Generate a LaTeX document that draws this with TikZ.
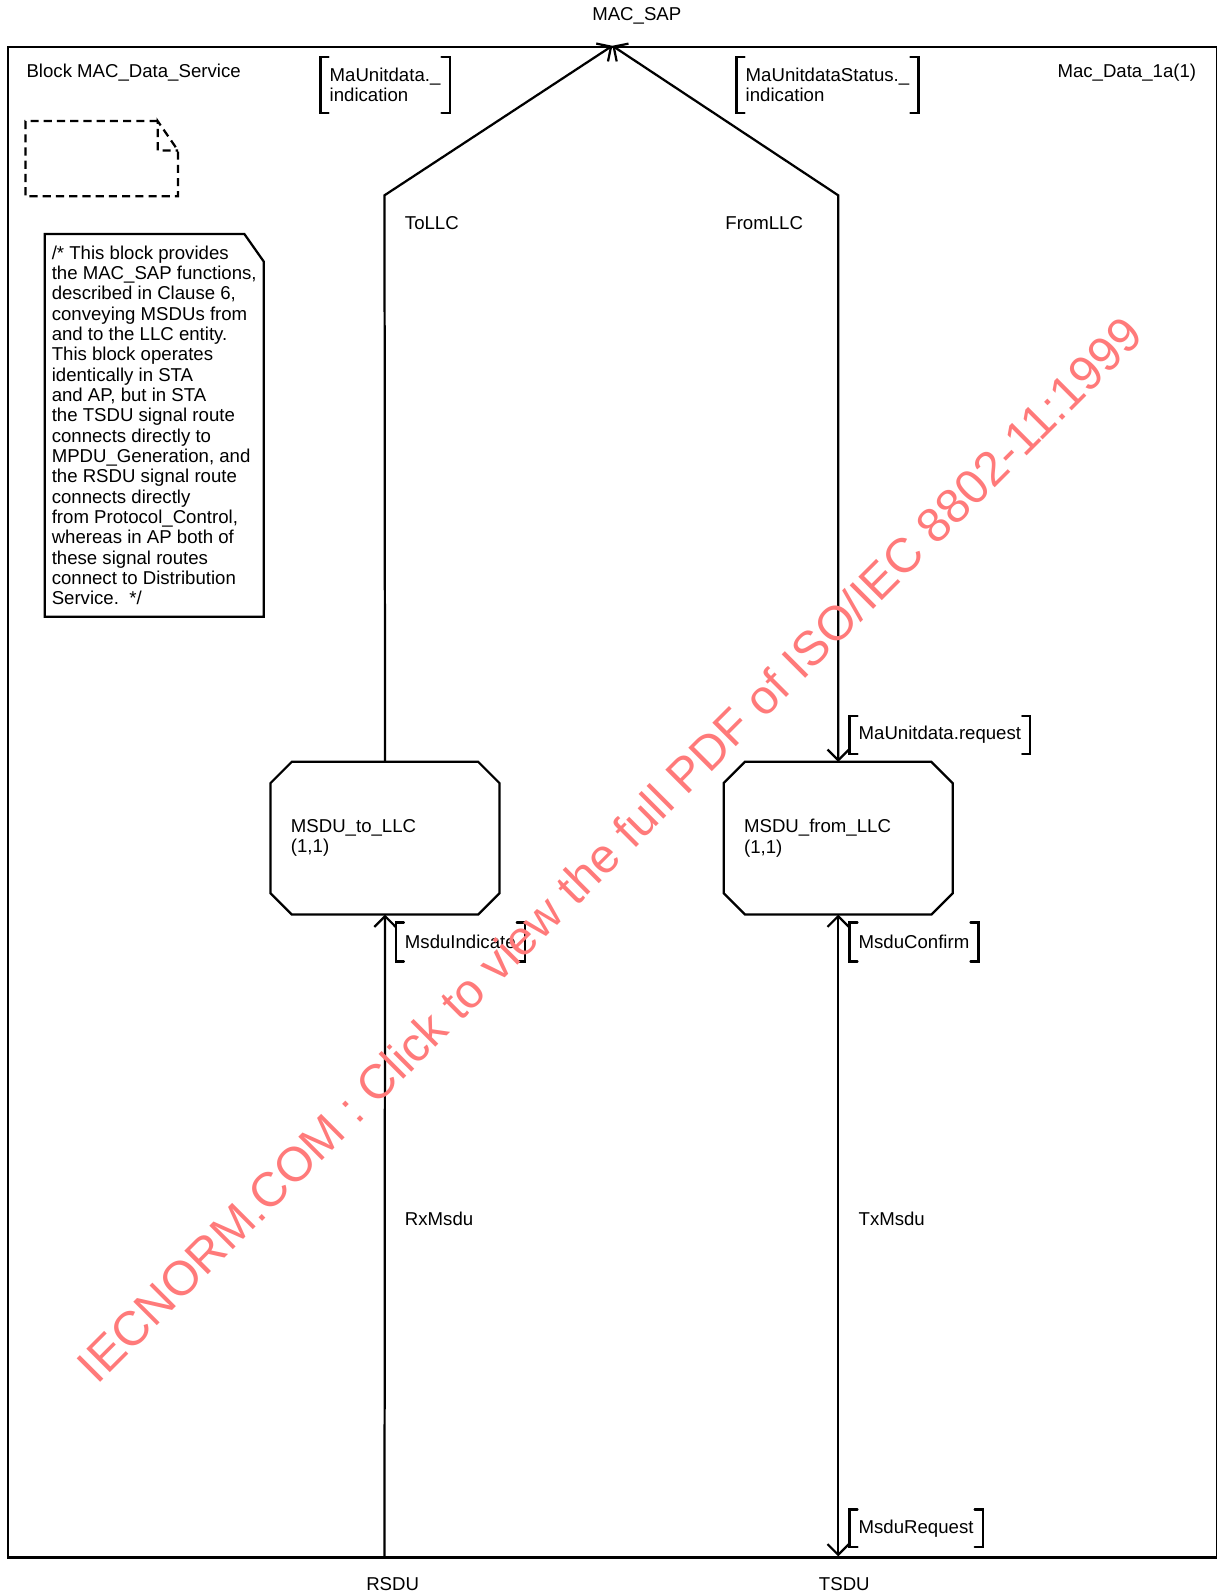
\documentclass[tikz,border=0pt]{standalone}
\usepackage{fontspec}
\setmainfont{Liberation Sans}
\usetikzlibrary{arrows.meta}
\definecolor{wmred}{RGB}{255,122,122}
% octagonal process symbol drawn round a named node
\newcommand{\octbox}[1]{%
  \draw ([xshift=21pt]#1.north west) -- ([xshift=-21pt]#1.north east)
    -- ([yshift=-21pt]#1.north east) -- ([yshift=21pt]#1.south east)
    -- ([xshift=-21pt]#1.south east) -- ([xshift=21pt]#1.south west)
    -- ([yshift=21pt]#1.south west) -- ([yshift=-21pt]#1.north west) -- cycle;}
% square brackets round a signal list
\newcommand{\sigbrackets}[1]{%
  \draw[line cap=round] ([xshift=8pt]#1.north west) -- (#1.north west) -- (#1.south west) -- ([xshift=8pt]#1.south west);
  \draw[line cap=round] ([xshift=-8pt]#1.north east) -- (#1.north east) -- (#1.south east) -- ([xshift=-8pt]#1.south east);}

\begin{document}
\begin{tikzpicture}[
  x=1pt,y=-1pt,
  font=\fontsize{18.3}{20}\selectfont,
  line width=2.2pt,
  >={Straight Barb[length=10.5pt,width=21pt]},
  lbl/.style={inner sep=0pt},
  proc/.style={minimum width=223pt,minimum height=148pt,text width=185pt,align=left,inner sep=0pt},
  siglist/.style={inner xsep=8pt,inner ysep=0pt,align=left,anchor=west},
  route/.style={line join=miter},
  dashline/.style={dash pattern=on 8pt off 5pt,line width=2.2pt},
  wm/.style={text=wmred,font=\fontsize{47.5}{50}\selectfont,inner sep=0pt}
]
\useasboundingbox (0,0) rectangle (1196,1568);

% ---------------- block frame and gates
\node[draw,minimum width=1188pt,minimum height=1485pt,inner sep=0pt,anchor=north west] (frame) at (7,45) {};
\coordinate (sap) at (602,45);
\coordinate (rsduPt) at (378,1530);
\coordinate (tsduPt) at (824,1530);
\coordinate (toBend) at (378,192);
\coordinate (fromBend) at (824,192);

\node[lbl] (sapLbl) at (626,16) {MAC\_SAP};
\node[lbl] (rsduLbl) at (386,1557) {RSDU};
\node[lbl] (tsduLbl) at (830,1557) {TSDU};

\node[lbl,anchor=west] (title) at (25,71) {Block MAC\_Data\_Service};
\node[lbl,anchor=east] (page) at (1177,71) {Mac\_Data\_1a(1)};

% ---------------- dashed page symbol
\draw[dashline] (155,119) -- (25,119) -- (25,193) -- (175,193) -- (175,148) -- (155,119) -- (155,148) -- (175,148);

% ---------------- comment
\node[align=left,inner sep=0pt,minimum width=213pt,minimum height=374pt,anchor=north west] (note) at (44,230)
  {/* This block provides\\the MAC\_SAP functions,\\described in Clause 6,\\conveying MSDUs from\\and to the LLC entity.\\This block operates\\identically in STA\\and AP, but in STA\\the TSDU signal route\\connects directly to\\MPDU\_Generation, and\\the RSDU signal route\\connects directly\\from Protocol\_Control,\\whereas in AP both of\\these signal routes\\connect to Distribution\\Service.~~*/};
\draw (note.north west) -- ([xshift=-19pt]note.north east) -- ([yshift=-27pt]note.north east) -- (note.south east) -- (note.south west) -- cycle;

% ---------------- processes
\node[proc] (toLLC) at (378.5,824) {MSDU\_to\_LLC\\(1,1)};
\node[proc] (fromLLC) at (824,824) {MSDU\_from\_LLC\\(1,1)};
\octbox{toLLC}
\octbox{fromLLC}

% ---------------- signal routes
\draw[route,->] (rsduPt) -- (toLLC.south);
\draw[route,->] (toLLC.north) -- (toBend) -- (sap);
\draw[route,<->] (sap) -- (fromBend) -- (fromLLC.north);
\draw[route,<->] (fromLLC.south) -- (tsduPt);

\node[lbl,anchor=west] (toLbl) at (397,219) {ToLLC};
\node[lbl,anchor=west] (fromLbl) at (712,219) {FromLLC};
\node[lbl,anchor=west] (rxLbl) at (397,1198) {RxMsdu};
\node[lbl,anchor=west] (txLbl) at (843,1198) {TxMsdu};

% ---------------- signal lists
\node[siglist,minimum height=53pt] (sInd) at (315,83.5) {MaUnitdata.\_\\indication};
\node[siglist,minimum height=53pt] (sStat) at (724,83.5) {MaUnitdataStatus.\_\\indication};
\node[siglist,minimum height=35pt] (sReq) at (835,722.5) {MaUnitdata.request};
\node[siglist,minimum height=36pt] (sMInd) at (389,926) {MsduIndicate};
\node[siglist,minimum height=36pt] (sConf) at (835,926) {MsduConfirm};
\node[siglist,minimum height=35pt] (sMReq) at (835,1502.5) {MsduRequest};
\foreach \s in {sInd,sStat,sReq,sMInd,sConf,sMReq} {\sigbrackets{\s}}

% ---------------- watermark
\node[wm,rotate=45] (wmark) at (599,835) {IECNORM.COM : Click to view the full PDF of ISO/IEC 8802-11:1999};
\end{tikzpicture}
\end{document}
